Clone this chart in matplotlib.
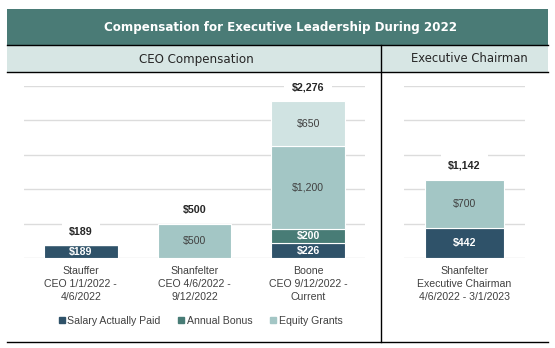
import numpy as np
import matplotlib
matplotlib.use("Agg")
import matplotlib.pyplot as plt
from matplotlib.patches import Rectangle
from matplotlib.lines import Line2D

# data ($ thousands)
ceo_names = ["Stauffer\nCEO 1/1/2022 -\n4/6/2022",
             "Shanfelter\nCEO 4/6/2022 -\n9/12/2022",
             "Boone\nCEO 9/12/2022 -\nCurrent"]
ceo_salary = [189, 0, 226]
ceo_bonus = [0, 0, 200]
ceo_equity = [0, 500, 1200]
ceo_equity_extra = [0, 0, 650]
chair_names = ["Shanfelter\nExecutive Chairman\n4/6/2022 - 3/1/2023"]
chair_salary = [442]
chair_equity = [700]

C_SAL = "#2f5269"; C_BON = "#487c76"; C_EQ = "#a3c6c5"; C_EQ2 = "#d0e3e2"
C_HEAD = "#4a7b76"; C_SUB = "#d7e6e4"; C_GRID = "#dcdcdc"; C_TXT = "#404040"
W, H = 555, 348
plt.rcParams["font.family"] = ["Liberation Sans", "DejaVu Sans"]

fig = plt.figure(figsize=(W/100, H/100), dpi=100)

def fx(px): return px / W
def fy(py): return 1 - py / H

# header boxes + frame lines
bg = fig.add_axes([0, 0, 1, 1]); bg.set_xlim(0, W); bg.set_ylim(H, 0); bg.axis("off")
bg.add_patch(Rectangle((7, 9), 541, 36, color=C_HEAD, lw=0))
bg.add_patch(Rectangle((7, 45), 541, 27, color=C_SUB, lw=0))
for y in (45, 72, 342):
    bg.plot([7, 548], [y, y], color="black", lw=1.0)
bg.plot([381, 381], [45, 342], color="black", lw=1.0)
bg.text(280, 27.5, "Compensation for Executive Leadership During 2022", color="white",
        fontsize=8.6, fontweight="bold", family="DejaVu Sans", ha="center", va="center")
bg.text(196, 59, "CEO Compensation", color="#262626", fontsize=8.6, family="DejaVu Sans",
        ha="center", va="center")
bg.text(469, 59, "Executive Chairman", color="#262626", fontsize=8.4, family="DejaVu Sans",
        ha="center", va="center")

def setup(ax, names):
    ax.set_ylim(0, 2500)
    ax.set_yticks(np.arange(0, 2501, 500))
    ax.yaxis.grid(True, color=C_GRID, lw=1.0); ax.set_axisbelow(True)
    ax.tick_params(axis="y", left=False, labelleft=False)
    ax.tick_params(axis="x", length=0, pad=5.5, labelsize=7.6, labelcolor=C_TXT)
    ax.set_xticks(range(len(names)))
    ax.set_xticklabels(names, linespacing=1.38)
    for s in ax.spines.values(): s.set_visible(False)
    ax.patch.set_alpha(0)

def seg_labels(ax, bars, vals, color, bold):
    for b, v in zip(bars, vals):
        if v > 0:
            ax.text(b.get_x() + b.get_width()/2, b.get_y() + v/2, f"${v:,}", ha="center",
                    va="center", fontsize=7.6, color=color, fontweight="bold" if bold else "normal")

def totals(ax, x, tot):
    for xi, t in zip(x, tot):
        ax.annotate(f"${t:,}", (xi, t), xytext=(0, 9.8), textcoords="offset points",
                    ha="center", va="center", fontsize=7.7, fontweight="bold", color="#262626",
                    bbox=dict(boxstyle="square,pad=0.7", fc="white", ec="none"))

bw = 0.65
ax1 = fig.add_axes([fx(24), fy(258.3), fx(365-24), 172.3/H])
ax1.set_xlim(-0.5, 2.5)
setup(ax1, ceo_names)
x = np.arange(len(ceo_names))
s = np.array(ceo_salary); b = np.array(ceo_bonus); e = np.array(ceo_equity); e2 = np.array(ceo_equity_extra)
kw = dict(width=bw, edgecolor="white", linewidth=0.8)
bs = ax1.bar(x, s, color=C_SAL, **kw)
bb = ax1.bar(x, b, bottom=s, color=C_BON, **kw)
be = ax1.bar(x, e, bottom=s+b, color=C_EQ, **kw)
be2 = ax1.bar(x, e2, bottom=s+b+e, color=C_EQ2, **kw)
seg_labels(ax1, bs, s, "white", True)
seg_labels(ax1, bb, b, "white", True)
seg_labels(ax1, be, e, C_TXT, False)
seg_labels(ax1, be2, e2, C_TXT, False)
totals(ax1, x, s+b+e+e2)

ax2 = fig.add_axes([fx(404), fy(258.3), fx(525-404), 172.3/H])
ax2.set_xlim(-0.5, 0.5)
setup(ax2, chair_names)
x2 = np.arange(len(chair_names))
cs = np.array(chair_salary); ce = np.array(chair_equity)
bs2 = ax2.bar(x2, cs, color=C_SAL, **kw)
be3 = ax2.bar(x2, ce, bottom=cs, color=C_EQ, **kw)
seg_labels(ax2, bs2, cs, "white", True)
seg_labels(ax2, be3, ce, C_TXT, False)
totals(ax2, x2, cs+ce)

handles = [Line2D([], [], ls="none", marker="s", ms=4, color=c) for c in (C_SAL, C_BON, C_EQ)]
fig.legend(handles, ["Salary Actually Paid", "Annual Bonus", "Equity Grants"], loc="center",
           bbox_to_anchor=(fx(200), fy(321)), ncol=3, frameon=False, fontsize=7.6,
           labelcolor=C_TXT, handletextpad=0.1, columnspacing=1.6, handlelength=0.8)

fig.savefig("out.png", dpi=100)
